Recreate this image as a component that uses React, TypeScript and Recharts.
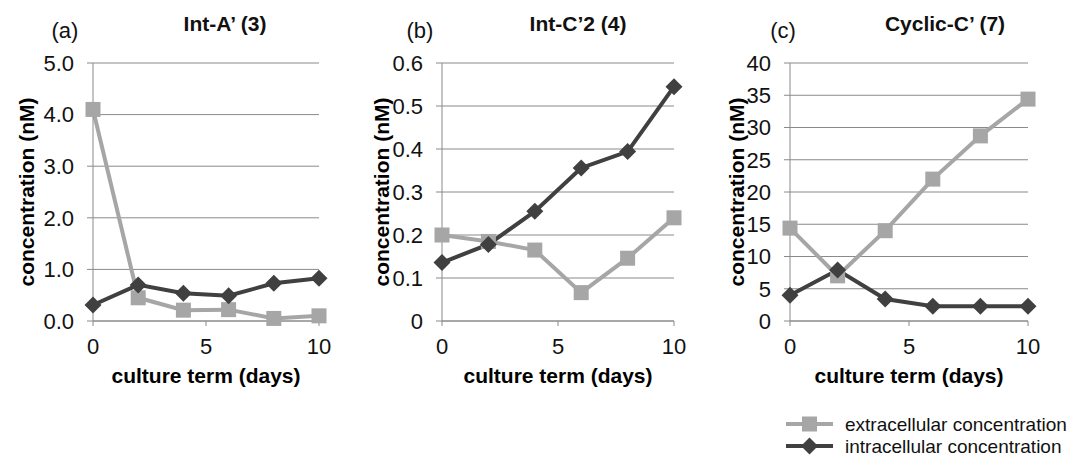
import React from 'react'
import { LineChart, Line, XAxis, YAxis, CartesianGrid } from 'recharts'

const DAYS = [0, 2, 4, 6, 8, 10]

// (a) Int-A' (3)
const EXTRA_A = [4.1, 0.45, 0.21, 0.22, 0.05, 0.1]
const INTRA_A = [0.31, 0.7, 0.54, 0.49, 0.73, 0.83]
// (b) Int-C'2 (4)
const EXTRA_B = [0.2, 0.185, 0.165, 0.066, 0.146, 0.24]
const INTRA_B = [0.136, 0.178, 0.255, 0.356, 0.394, 0.545]
// (c) Cyclic-C' (7)
const EXTRA_C = [14.4, 7.0, 14.0, 22.0, 28.7, 34.4]
const INTRA_C = [4.0, 7.9, 3.4, 2.3, 2.3, 2.3]

const X_TICKS = [0, 5, 10]
const Y_TICKS_A = [0, 1, 2, 3, 4, 5]
const Y_TICKS_B = [0, 0.1, 0.2, 0.3, 0.4, 0.5, 0.6]
const Y_TICKS_C = [0, 5, 10, 15, 20, 25, 30, 35, 40]

const SERIES = ['extracellular concentration', 'intracellular concentration']

const LIGHT = '#a6a6a6'
const DARK = '#404040'
const GRID = '#8a8a8a'
const FONT = '"Liberation Sans", Arial, sans-serif'
const H = 455

const rows = (extra: number[], intra: number[]) =>
  DAYS.map((day, i) => ({ day, extra: extra[i], intra: intra[i] }))

const Square = (props: any) => {
  const { cx, cy, index } = props
  if (cx == null || cy == null) return null
  return <rect key={`s${index}`} x={cx - 7.5} y={cy - 7.5} width={15} height={15} fill={LIGHT} />
}

const Diamond = (props: any) => {
  const { cx, cy, index } = props
  if (cx == null || cy == null) return null
  return (
    <path
      key={`d${index}`}
      d={`M${cx},${cy - 8.5}L${cx + 8.5},${cy}L${cx},${cy + 8.5}L${cx - 8.5},${cy}Z`}
      fill={DARK}
    />
  )
}

interface PanelProps {
  left: number
  width: number
  yWidth: number
  right: number
  data: any[]
  domain: [number, number]
  ticks: number[]
  fmt: (v: number) => string
  labelX: number
}

function Panel({ left, width, yWidth, right, data, domain, ticks, fmt, labelX }: PanelProps) {
  const tickStyle = { fill: '#111', fontSize: 22, fontFamily: FONT }
  return (
    <div style={{ position: 'absolute', left, top: 0 }}>
      <LineChart width={width} height={H} data={data} margin={{ top: 63, right, bottom: 74, left: 0 }}>
        <CartesianGrid vertical={false} stroke={GRID} strokeWidth={1} />
        <XAxis
          dataKey="day"
          type="number"
          domain={[0, 10]}
          ticks={X_TICKS}
          height={60}
          tick={tickStyle}
          tickSize={5}
          tickMargin={12}
          stroke={GRID}
          tickLine={{ stroke: GRID }}
          label={{
            content: ({ viewBox }: any) => (
              <text
                x={viewBox.x + viewBox.width / 2}
                y={viewBox.y + 62}
                textAnchor="middle"
                fontFamily={FONT}
                fontWeight="bold"
                fontSize={21}
                fill="#000"
              >
                culture term (days)
              </text>
            ),
          }}
        />
        <YAxis
          type="number"
          domain={domain}
          ticks={ticks}
          width={yWidth}
          tick={tickStyle}
          tickFormatter={fmt}
          tickSize={6}
          tickMargin={13}
          stroke={GRID}
          tickLine={{ stroke: GRID }}
          interval={0}
          label={{
            content: ({ viewBox }: any) => {
              const x = viewBox.x + labelX
              const y = viewBox.y + viewBox.height / 2
              return (
                <text
                  x={x}
                  y={y}
                  transform={`rotate(-90, ${x}, ${y})`}
                  textAnchor="middle"
                  dominantBaseline="central"
                  fontFamily={FONT}
                  fontWeight="bold"
                  fontSize={21}
                  fill="#000"
                >
                  concentration (nM)
                </text>
              )
            },
          }}
        />
        <Line
          dataKey="extra"
          name={SERIES[0]}
          stroke={LIGHT}
          strokeWidth={4}
          dot={Square}
          activeDot={false}
          isAnimationActive={false}
        />
        <Line
          dataKey="intra"
          name={SERIES[1]}
          stroke={DARK}
          strokeWidth={4}
          dot={Diamond}
          activeDot={false}
          isAnimationActive={false}
        />
      </LineChart>
    </div>
  )
}

const TITLES = [
  { tag: '(a)', tagX: 65, title: 'Int-A\u2019 (3)', titleX: 225 },
  { tag: '(b)', tagX: 420, title: 'Int-C\u20192 (4)', titleX: 578 },
  { tag: '(c)', tagX: 783, title: 'Cyclic-C\u2019 (7)', titleX: 945 },
]

function LegendRow({ name, y, dark }: { name: string; y: number; dark: boolean }) {
  return (
    <g>
      <line x1={786} x2={833} y1={y} y2={y} stroke={dark ? DARK : LIGHT} strokeWidth={4} />
      {dark ? (
        <path d={`M809.5,${y - 8.5}L818,${y}L809.5,${y + 8.5}L801,${y}Z`} fill={DARK} />
      ) : (
        <rect x={802} y={y - 7.5} width={15} height={15} fill={LIGHT} />
      )}
      <text x={845} y={y} dominantBaseline="central" fontFamily={FONT} fontSize={19} fill="#111">
        {name}
      </text>
    </g>
  )
}

export default function App() {
  return (
    <div style={{ position: 'absolute', left: 0, top: 0, width: 1069, height: H, background: '#fff' }}>
      <Panel
        left={0}
        width={340}
        yWidth={93}
        right={21}
        data={rows(EXTRA_A, INTRA_A)}
        domain={[0, 5]}
        ticks={Y_TICKS_A}
        fmt={(v) => v.toFixed(1)}
        labelX={26}
      />
      <Panel
        left={340}
        width={350}
        yWidth={102}
        right={16}
        data={rows(EXTRA_B, INTRA_B)}
        domain={[0, 0.6]}
        ticks={Y_TICKS_B}
        fmt={(v) => (v === 0 ? '0' : v.toFixed(1))}
        labelX={41}
      />
      <Panel
        left={690}
        width={379}
        yWidth={100}
        right={41}
        data={rows(EXTRA_C, INTRA_C)}
        domain={[0, 40]}
        ticks={Y_TICKS_C}
        fmt={(v) => String(v)}
        labelX={46}
      />
      <svg
        width={1069}
        height={H}
        style={{ position: 'absolute', left: 0, top: 0, pointerEvents: 'none' }}
      >
        {TITLES.map((t) => (
          <g key={t.tag}>
            <text x={t.tagX} y={38} textAnchor="middle" fontFamily={FONT} fontSize={22} fill="#111">
              {t.tag}
            </text>
            <text x={t.titleX} y={31} textAnchor="middle" fontFamily={FONT} fontWeight="bold" fontSize={21} fill="#111">
              {t.title}
            </text>
          </g>
        ))}
        <LegendRow name={SERIES[0]} y={424} dark={false} />
        <LegendRow name={SERIES[1]} y={446} dark={true} />
      </svg>
    </div>
  )
}
